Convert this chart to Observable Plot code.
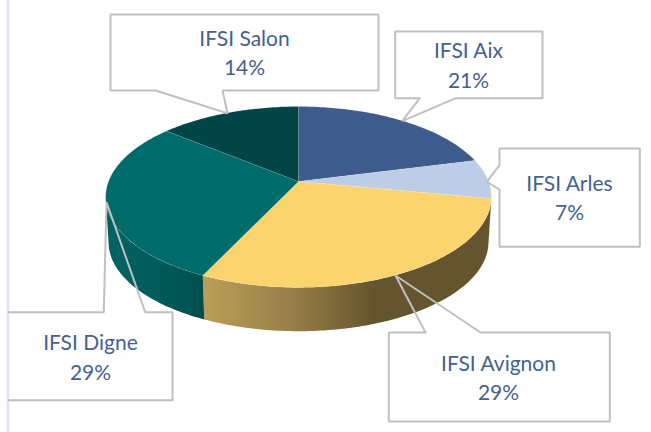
<!DOCTYPE html>
<html>
<head>
<meta charset="utf-8">
<script src="https://cdn.jsdelivr.net/npm/d3@7"></script>
<script src="https://cdn.jsdelivr.net/npm/@observablehq/plot@0.6"></script>
<style>html,body{margin:0;padding:0;background:#fff}svg{display:block}</style>
</head>
<body>
<div id="chart"></div>
<script>
const categories = ["IFSI Aix", "IFSI Arles", "IFSI Avignon", "IFSI Digne", "IFSI Salon"];
const shares = [21, 7, 29, 29, 14];
const topColors = ["#3d5b8d", "#bccde5", "#fbd46f", "#006b6b", "#014546"];
const wallColors = ["#2c4468", "#65552f", "url(#wallGold)", "url(#wallTeal)", "#003233"];
const labelX = [468, 569, 498, 90, 244];
const labelY = [65.5, 198, 378, 357.5, 53];
const callouts = [
  [[419.3,97.7],[394.7,97.7],[394.7,31],[542,31],[542,97.7],[455.3,97.7],[401.7,120.7],[419.3,97.7]],
  [[499,164.7],[499,148],[639.3,148],[639.3,246.3],[499,246.3],[499,189],[486.3,181.3],[499,164.7]],
  [[425,332],[388.3,332],[388.3,421],[609.3,421],[609.3,332],[480,332],[395,275],[425,332]],
  [[8,311.7],[103.3,311.7],[106,201.7],[144.7,311.7],[172,311.7],[172,399.7],[8,399.7]],
  [[155,90],[110,90],[110,14],[378,14],[378,90],[222,90],[227,112.7],[155,90]]
];
const pageRule = [[7.5,0],[7.5,432]];

// Pie geometry: perspective view of a disc
const cx = 298, cy = 181, R = 190, S = 87.8, k = 0.171, depth = 45.4, shrink = 0.985;
const rim = (deg, f = 1, dy = 0) => {
  const a = deg * Math.PI / 180, u = Math.sin(a), v = Math.cos(a), d = 1 + k * v;
  return {x: cx + f * R * u / d, y: cy + dy - f * S * v / d};
};
const total = d3.sum(shares);
const starts = [0, ...d3.cumsum(shares)].map(s => s / total * 360);
const arcAngles = (a0, a1) => {
  const n = Math.ceil(a1 - a0), out = [];
  for (let i = 0; i <= n; i++) out.push(a0 + (a1 - a0) * i / n);
  return out;
};
// The wall shows only between the two angles where the rim turns back
const sil = Math.acos(-k) * 180 / Math.PI;
const topFaces = [], walls = [];
categories.forEach((name, i) => {
  const angles = arcAngles(starts[i], starts[i + 1]);
  topFaces.push({x: cx, y: cy, name, fill: topColors[i]});
  angles.forEach(a => topFaces.push({...rim(a), name, fill: topColors[i]}));
  topFaces.push({x: cx, y: cy, name, fill: topColors[i]});
  const a0 = Math.max(starts[i], sil), a1 = Math.min(starts[i + 1], 360 - sil);
  if (a1 > a0) {
    const front = arcAngles(a0, a1);
    front.forEach(a => walls.push({...rim(a), name, fill: wallColors[i]}));
    front.slice().reverse().forEach(a => walls.push({...rim(a, shrink, depth), name, fill: wallColors[i]}));
  }
});
const calloutPoints = callouts.flatMap((c, i) => c.map(([x, y]) => ({x, y, i})));
const labels = categories.map((name, i) => ({name, pct: shares[i] + "%", x: labelX[i], y: labelY[i] - 2.5}));

const gradients = () => {
  const defs = d3.create("svg:defs");
  const add = (id, x1, x2, stops) => {
    const g = defs.append("linearGradient").attr("id", id)
      .attr("gradientUnits", "userSpaceOnUse")
      .attr("x1", x1).attr("x2", x2).attr("y1", 0).attr("y2", 0);
    stops.forEach(([o, c]) => g.append("stop").attr("offset", o).attr("stop-color", c));
  };
  add("wallGold", 202, 372, [[0, "#bb9f58"], [0.5, "#9a8049"], [1, "#65552f"]]);
  add("wallTeal", 105, 203, [[0, "#006463"], [0.6, "#005a59"], [1, "#004e4d"]]);
  return defs.node();
};

const chart = Plot.plot({
  width: 651, height: 432,
  margin: 0,
  x: {domain: [0, 651], range: [0, 651], axis: null},
  y: {domain: [0, 432], range: [0, 432], axis: null},
  color: {type: "identity"},
  style: {background: "#ffffff", fontFamily: "Lato, sans-serif"},
  marks: [
    gradients,
    Plot.line(pageRule, {x: d => d[0], y: d => d[1], stroke: "#dfe4f1", strokeWidth: 2.5}),
    Plot.line(walls, {x: "x", y: "y", z: "name", fill: "fill", stroke: "none"}),
    Plot.line(topFaces, {x: "x", y: "y", z: "name", fill: "fill", stroke: "#ffffff", strokeOpacity: 0.15, strokeWidth: 0.8}),
    Plot.line(calloutPoints, {x: "x", y: "y", z: "i", stroke: "#c0c0c0", strokeWidth: 2, strokeLinejoin: "miter"}),
    Plot.text(labels, {x: "x", y: "y", text: d => d.name + "\n" + d.pct, fill: "#44618f", fontSize: 21, lineHeight: 1.42, textAnchor: "middle"})
  ]
});
document.getElementById("chart").append(chart);
</script>
</body>
</html>
